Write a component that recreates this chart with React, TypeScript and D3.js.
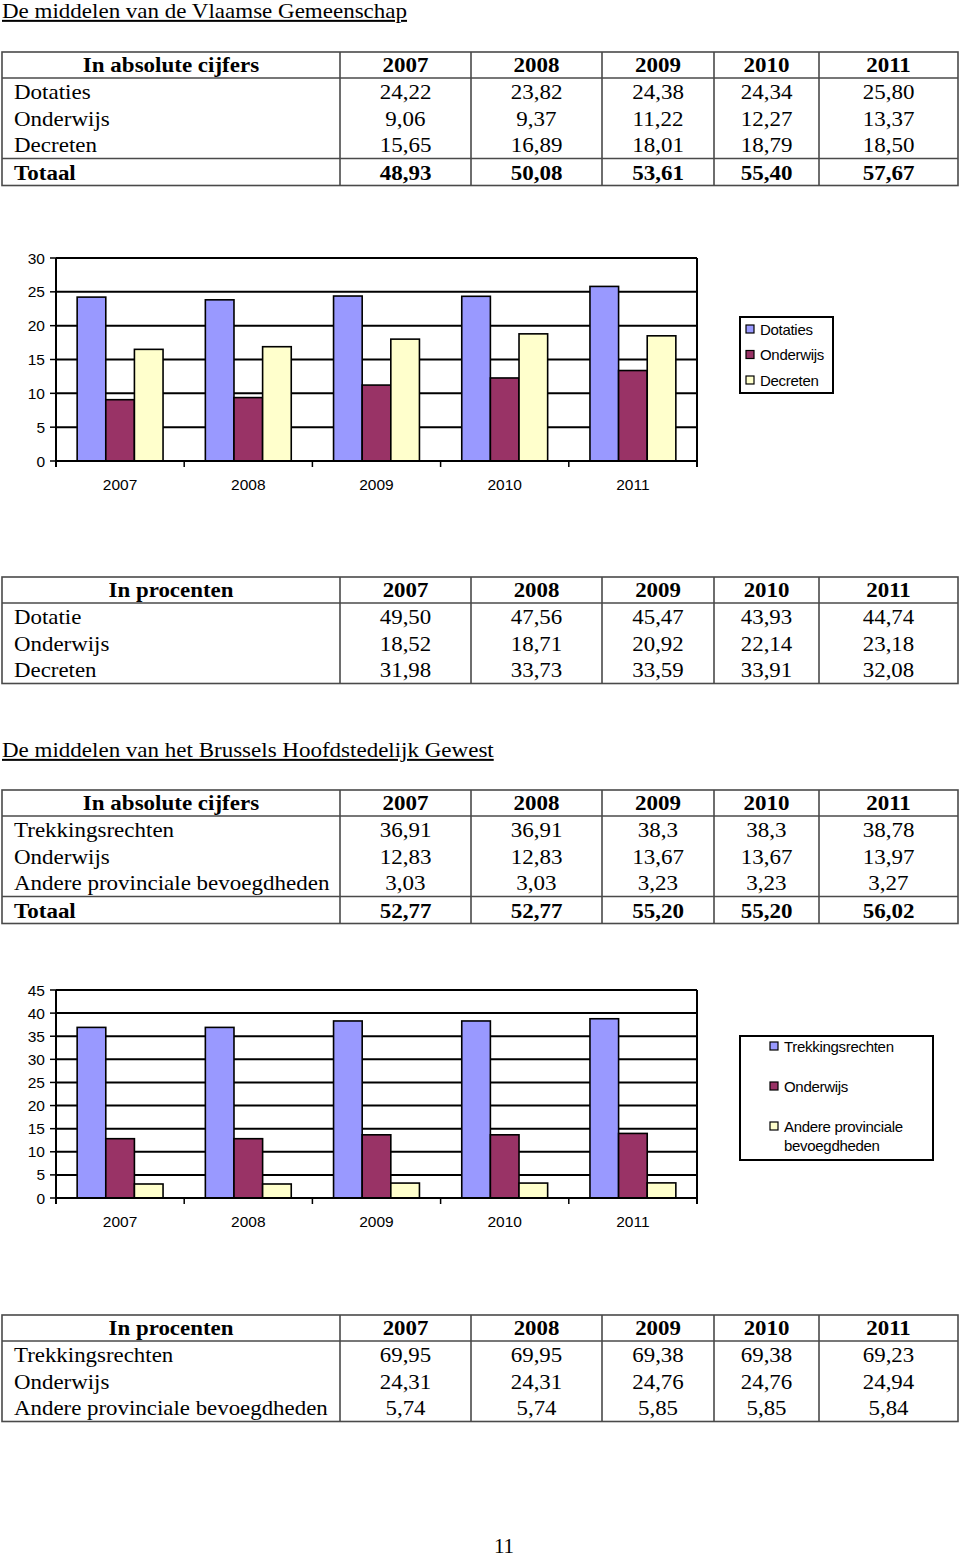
import React from "react";
import * as d3 from "d3";

const years = ["2007", "2008", "2009", "2010", "2011"];

// Vlaamse Gemeenschap
const vlSeries = ["Dotaties", "Onderwijs", "Decreten"];
const vlDotaties = [24.22, 23.82, 24.38, 24.34, 25.8];
const vlOnderwijs = [9.06, 9.37, 11.22, 12.27, 13.37];
const vlDecreten = [15.65, 16.89, 18.01, 18.79, 18.5];
// the chart draws the 2007 Decreten bar at about 16.5
const vlDecretenChart = [16.5, 16.89, 18.01, 18.79, 18.5];
const vlTotaal = [48.93, 50.08, 53.61, 55.4, 57.67];
const vlPctLabels = ["Dotatie", "Onderwijs", "Decreten"];
const vlPctDotatie = ["49,50", "47,56", "45,47", "43,93", "44,74"];
const vlPctOnderwijs = ["18,52", "18,71", "20,92", "22,14", "23,18"];
const vlPctDecreten = ["31,98", "33,73", "33,59", "33,91", "32,08"];
const vlTicks = [0, 5, 10, 15, 20, 25, 30];

// Brussels Hoofdstedelijk Gewest
const brSeries = ["Trekkingsrechten", "Onderwijs", "Andere provinciale bevoegdheden"];
const brTrekking = [36.91, 36.91, 38.3, 38.3, 38.78];
const brOnderwijs = [12.83, 12.83, 13.67, 13.67, 13.97];
const brAndere = [3.03, 3.03, 3.23, 3.23, 3.27];
const brTotaal = [52.77, 52.77, 55.2, 55.2, 56.02];
const brPctTrekking = ["69,95", "69,95", "69,38", "69,38", "69,23"];
const brPctOnderwijs = ["24,31", "24,31", "24,76", "24,76", "24,94"];
const brPctAndere = ["5,74", "5,74", "5,85", "5,85", "5,84"];
const brTicks = [0, 5, 10, 15, 20, 25, 30, 35, 40, 45];

const colors = ["#9999FF", "#993366", "#FFFFCC"];

const fmt2 = (v: number) => v.toFixed(2).replace(".", ",");
const fmtRaw = (v: number) => String(v).replace(".", ",");

const SERIF = "'Liberation Serif', 'Times New Roman', serif";
const SANS = "'Liberation Sans', Arial, sans-serif";

function T(props: {
  x: number; y: number; children: any; anchor?: string; bold?: boolean;
  size?: number; sx?: number; family?: string; underline?: boolean;
}) {
  const { x, y, children, anchor = "start", bold = false, size = 20, sx = 1.15, family = SERIF, underline = false } = props;
  return (
    <text
      transform={`translate(${x},${y}) scale(${sx},1)`}
      textAnchor={anchor}
      fontFamily={family}
      fontSize={size}
      fontWeight={bold ? "bold" : "normal"}
      textDecoration={underline ? "underline" : undefined}
      fill="#000"
    >
      {children}
    </text>
  );
}

const colEdges = [2, 340, 471, 602, 714, 819, 958];
const lineColor = "#4a4a4a";

function Table(props: {
  top: number; header: string; rowLabels: string[]; rows: string[][];
  total?: string[]; pct?: boolean;
}) {
  const { top, header, rowLabels, rows, total, pct } = props;
  const rowH = 26.5;
  const headerBottom = top + 26;
  const dataEnd = headerBottom + rowH * rows.length + 1;
  const bottom = total ? dataEnd + 27 : dataEnd;
  const size = pct ? 22 : 20;
  const sx = pct ? 1.04 : 1.15;
  const centers = colEdges.slice(0, -1).map((e, i) => (e + colEdges[i + 1]) / 2);
  const elems: any[] = [];
  elems.push(<rect key="box" x={colEdges[0]} y={top} width={colEdges[6] - colEdges[0]} height={bottom - top} fill="none" stroke={lineColor} strokeWidth={1.6} />);
  colEdges.slice(1, -1).forEach((e, i) =>
    elems.push(<line key={"v" + i} x1={e} x2={e} y1={top} y2={bottom} stroke={lineColor} strokeWidth={1.6} />)
  );
  elems.push(<line key="hh" x1={colEdges[0]} x2={colEdges[6]} y1={headerBottom} y2={headerBottom} stroke={lineColor} strokeWidth={1.6} />);
  if (total) elems.push(<line key="ht" x1={colEdges[0]} x2={colEdges[6]} y1={dataEnd} y2={dataEnd} stroke={lineColor} strokeWidth={1.6} />);
  const hb = top + 20;
  elems.push(<T key="h0" x={centers[0]} y={hb} anchor="middle" bold size={size} sx={sx}>{header}</T>);
  years.forEach((yr, i) => elems.push(<T key={"hy" + i} x={centers[i + 1]} y={hb} anchor="middle" bold size={size} sx={sx}>{yr}</T>));
  rows.forEach((r, ri) => {
    const b = headerBottom + 21 + ri * rowH;
    elems.push(<T key={"l" + ri} x={14} y={b} size={size} sx={sx}>{rowLabels[ri]}</T>);
    r.forEach((v, ci) => elems.push(<T key={"c" + ri + "_" + ci} x={centers[ci + 1]} y={b} anchor="middle" size={size} sx={sx}>{v}</T>));
  });
  if (total) {
    const b = dataEnd + 21;
    elems.push(<T key="tl" x={14} y={b} bold size={size} sx={sx}>Totaal</T>);
    total.forEach((v, ci) => elems.push(<T key={"t" + ci} x={centers[ci + 1]} y={b} anchor="middle" bold size={size} sx={sx}>{v}</T>));
  }
  return <g>{elems}</g>;
}

function BarChart(props: {
  top: number; bottom: number; ticks: number[]; series: number[][];
  legend: React.ReactNode;
}) {
  const { top, bottom, ticks, series } = props;
  const left = 56, right = 697;
  const maxV = ticks[ticks.length - 1];
  const y = d3.scaleLinear().domain([0, maxV]).range([bottom, top]);
  const x = d3.scaleBand<string>().domain(years).range([left, right]).paddingInner(0.33).paddingOuter(0.165);
  const xi = d3.scaleBand<number>().domain([0, 1, 2]).range([0, x.bandwidth()]);
  const step = (right - left) / years.length;
  const elems: any[] = [];
  ticks.forEach((t, i) => {
    if (t === 0) return;
    elems.push(<line key={"g" + i} x1={left} x2={right} y1={y(t)} y2={y(t)} stroke="#000" strokeWidth={2} />);
  });
  series.forEach((s, si) =>
    s.forEach((v, i) => {
      const bx = (x(years[i]) as number) + (xi(si) as number);
      elems.push(
        <rect key={"b" + si + "_" + i} x={bx} y={y(v)} width={xi.bandwidth()} height={bottom - y(v)}
          fill={colors[si]} stroke="#000" strokeWidth={1.6} />
      );
    })
  );
  elems.push(<line key="ax" x1={left} x2={right} y1={bottom} y2={bottom} stroke="#000" strokeWidth={2} />);
  elems.push(<line key="ay" x1={left} x2={left} y1={top} y2={bottom + 6} stroke="#000" strokeWidth={2} />);
  elems.push(<line key="ar" x1={right} x2={right} y1={top} y2={bottom + 6} stroke="#000" strokeWidth={2} />);
  ticks.forEach((t, i) => {
    elems.push(<line key={"yt" + i} x1={left - 6} x2={left} y1={y(t)} y2={y(t)} stroke="#000" strokeWidth={1.5} />);
    elems.push(
      <text key={"yl" + i} x={45} y={y(t) + 5.5} textAnchor="end" fontFamily={SANS} fontSize={15.5} fill="#000">{t}</text>
    );
  });
  years.forEach((yr, i) => {
    const tx = left + step * i;
    if (i > 0) elems.push(<line key={"xt" + i} x1={tx} x2={tx} y1={bottom} y2={bottom + 6} stroke="#000" strokeWidth={1.5} />);
    elems.push(
      <text key={"xl" + i} x={(x(yr) as number) + x.bandwidth() / 2} y={bottom + 29} textAnchor="middle" fontFamily={SANS} fontSize={15.5} fill="#000">{yr}</text>
    );
  });
  return <g>{elems}{props.legend}</g>;
}

export default function App() {
  const vlRows = [vlDotaties, vlOnderwijs, vlDecreten].map((r) => r.map(fmt2));
  const brRows = [brTrekking, brOnderwijs, brAndere].map((r) => r.map(fmtRaw));
  const legend1 = (
    <g>
      <rect x={740} y={317} width={93} height={76} fill="#fff" stroke="#000" strokeWidth={2} />
      {vlSeries.map((s, i) => (
        <g key={s}>
          <rect x={746} y={325 + i * 25.5} width={8} height={8} fill={colors[i]} stroke="#000" strokeWidth={1.2} />
          <text x={760} y={334.5 + i * 25.5} fontFamily={SANS} fontSize={15} letterSpacing={-0.3} fill="#000">{s}</text>
        </g>
      ))}
    </g>
  );
  const legend2 = (
    <g>
      <rect x={740} y={1036} width={193} height={124} fill="#fff" stroke="#000" strokeWidth={2} />
      {brSeries.map((s, i) => (
        <g key={s}>
          <rect x={770} y={1042 + i * 40} width={8} height={8} fill={colors[i]} stroke="#000" strokeWidth={1.2} />
          {i < 2 ? (
            <text x={784} y={1051.5 + i * 40} fontFamily={SANS} fontSize={15} letterSpacing={-0.3} fill="#000">{s}</text>
          ) : (
            <text fontFamily={SANS} fontSize={15} letterSpacing={-0.3} fill="#000">
              <tspan x={784} y={1131.5}>Andere provinciale</tspan>
              <tspan x={784} y={1150.5}>bevoegdheden</tspan>
            </text>
          )}
        </g>
      ))}
    </g>
  );
  return (
    <svg width={960} height={1556} style={{ position: "absolute", left: 0, top: 0, background: "#fff" }}>
      <rect x={0} y={0} width={960} height={1556} fill="#fff" />
      <T x={2} y={18} size={20} underline>De middelen van de Vlaamse Gemeenschap</T>
      <Table top={52} header="In absolute cijfers" rowLabels={vlSeries} rows={vlRows} total={vlTotaal.map(fmt2)} />
      <BarChart top={258} bottom={461} ticks={vlTicks} series={[vlDotaties, vlOnderwijs, vlDecretenChart]} legend={legend1} />
      <Table top={577} header="In procenten" rowLabels={vlPctLabels} rows={[vlPctDotatie, vlPctOnderwijs, vlPctDecreten]} pct />
      <T x={2} y={757} size={20} underline>De middelen van het Brussels Hoofdstedelijk Gewest</T>
      <Table top={790} header="In absolute cijfers" rowLabels={brSeries} rows={brRows} total={brTotaal.map(fmt2)} />
      <BarChart top={990} bottom={1198} ticks={brTicks} series={[brTrekking, brOnderwijs, brAndere]} legend={legend2} />
      <Table top={1315} header="In procenten" rowLabels={brSeries} rows={[brPctTrekking, brPctOnderwijs, brPctAndere]} pct />
      <T x={504} y={1553} anchor="middle" size={20} sx={1.05}>11</T>
    </svg>
  );
}
